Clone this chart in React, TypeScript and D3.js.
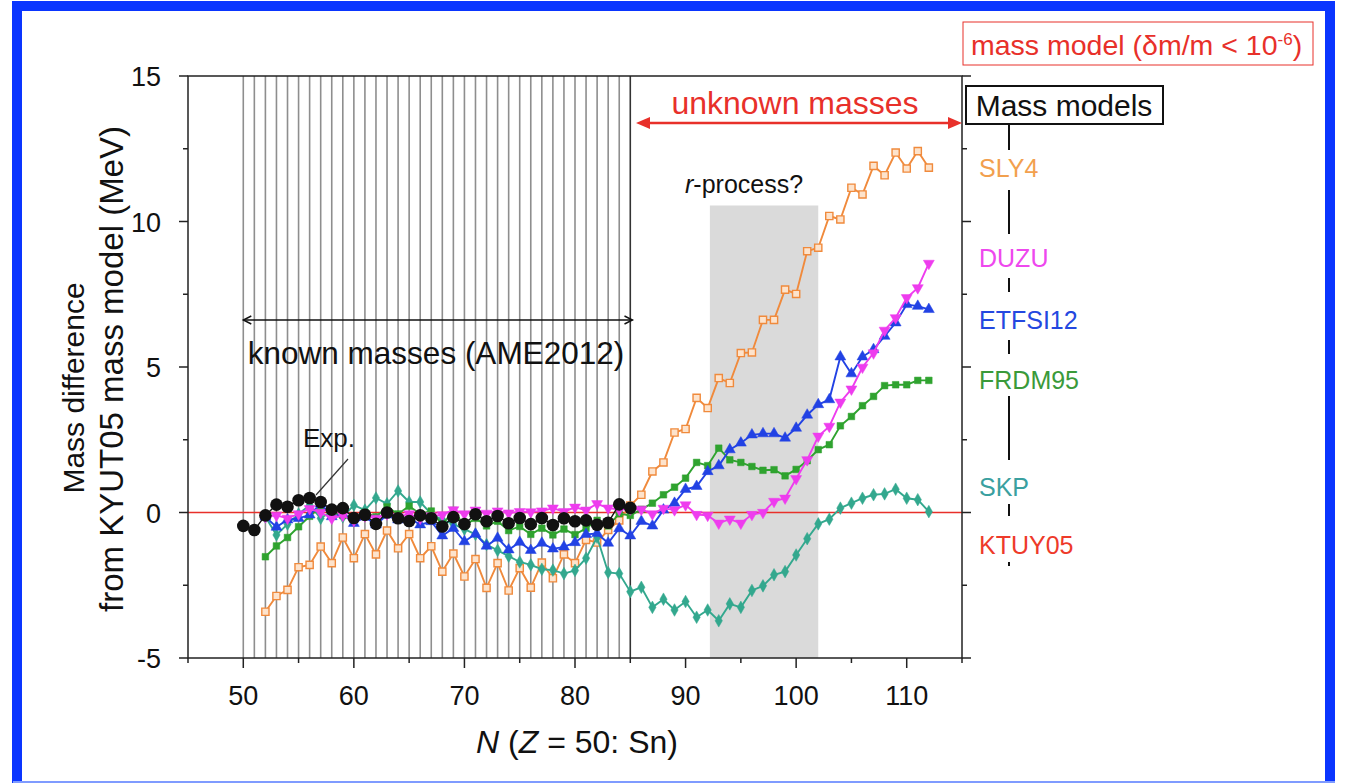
import React from "react";
import * as d3 from "d3";

const W = 1345;
const H = 783;

// Neutron numbers (Z = 50, Sn isotopes)
const modelN = d3.range(52, 113);
const expN = d3.range(50, 86);
const knownN = d3.range(50, 86);

// Measured masses relative to KYUT05 (MeV)
const expValues = [
  -0.46, -0.6, -0.1, 0.27, 0.2, 0.42, 0.5, 0.36, 0.1, 0.15, -0.19, -0.08, -0.39, 0.0, -0.2, -0.29,
  -0.1, -0.2, -0.48, -0.16, -0.4, -0.06, -0.3, -0.12, -0.37, -0.19, -0.4, -0.19, -0.43, -0.2, -0.3,
  -0.27, -0.42, -0.35, 0.28, 0.16,
];

// Mass-model predictions relative to KYUT05 (MeV), N = 52 … 112
const sly4 = [
  -3.41, -2.87, -2.66, -1.88, -1.8, -1.17, -1.74, -0.86, -1.57, -0.74, -1.44, -0.62, -1.23, -0.74,
  -1.57, -1.16, -2.03, -1.41, -2.2, -1.6, -2.59, -1.74, -2.68, -1.91, -2.58, -1.72, -2.26, -1.44,
  -1.74, -0.94, -1.03, -0.6, -0.27, 0.24, 0.61, 1.41, 1.72, 2.75, 2.87, 3.94, 3.59, 4.62, 4.45,
  5.48, 5.5, 6.62, 6.62, 7.66, 7.51, 8.98, 9.1, 10.19, 10.07, 11.16, 10.93, 11.91, 11.59, 12.37,
  11.82, 12.42, 11.85,
];
const duzu = [
  -0.15, -0.1, -0.2, -0.05, 0.13, 0.0, -0.2, -0.1, -0.28, -0.12, -0.2, -0.05, -0.15, -0.05, -0.2,
  -0.12, -0.08, 0.09, -0.05, 0.08, -0.03, 0.05, -0.02, 0.03, 0.02, 0.05, 0.15, 0.03, 0.18, 0.08,
  0.3, 0.15, 0.1, 0.12, 0.11, -0.05, 0.14, 0.09, 0.26, -0.07, -0.1, -0.37, -0.23, -0.37, -0.07,
  0.0, 0.38, 0.49, 1.16, 1.81, 2.62, 2.96, 3.79, 4.24, 4.99, 5.48, 6.26, 6.69, 7.38, 7.72, 8.56,
];
const etfsi12 = [
  -0.15, -0.5, -0.25, -0.2, -0.08, 0.3, -0.14, -0.05, -0.37, -0.15, -0.42, -0.08, -0.25, -0.19,
  -0.42, -0.31, -0.8, -0.54, -1.0, -0.74, -1.15, -0.88, -1.28, -1.02, -1.3, -1.05, -1.25, -1.18,
  -1.03, -0.75, -0.72, -1.05, -0.55, -0.8, -0.3, -0.46, 0.09, 0.32, 0.8, 0.9, 1.41, 1.61, 2.16,
  2.39, 2.67, 2.71, 2.71, 2.56, 2.9, 3.35, 3.71, 3.88, 5.35, 4.77, 5.35, 5.6, 6.06, 6.52, 7.15,
  7.09, 6.98,
];
const frdm95 = [
  -1.52, -1.15, -0.86, -0.49, -0.13, 0.19, 0.0, -0.1, -0.2, 0.0, -0.15, 0.19, -0.05, 0.22, -0.05,
  0.05, -0.42, 0.07, -0.46, -0.2, -0.46, -0.3, -0.62, -0.48, -0.75, -0.54, -0.77, -0.57, -0.76,
  -0.54, -0.27, -0.46, -0.04, -0.1, 0.11, 0.32, 0.61, 0.87, 1.18, 1.72, 1.61, 2.21, 1.81, 1.72,
  1.58, 1.45, 1.47, 1.26, 1.48, 1.78, 2.16, 2.33, 2.98, 3.3, 3.67, 3.99, 4.36, 4.39, 4.39, 4.54,
  4.54,
];
const skp = [
  -0.15, -0.77, -0.4, -0.05, 0.25, -0.2, 0.05, -0.15, 0.25, 0.08, 0.5, 0.3, 0.74, 0.36, 0.36,
  -0.05, -0.25, -0.4, -0.57, -0.75, -1.1, -1.3, -1.5, -1.7, -1.8, -1.95, -1.98, -2.1, -1.99, -1.57,
  -0.85, -2.06, -2.1, -2.72, -2.57, -3.26, -2.98, -3.35, -3.06, -3.6, -3.35, -3.72, -3.14, -3.26,
  -2.68, -2.52, -2.14, -2.03, -1.46, -0.9, -0.39, -0.23, 0.15, 0.32, 0.49, 0.61, 0.64, 0.8, 0.49,
  0.44, 0.03,
];

// r-process window (N range) and its upper edge (MeV)
const rProcessN = [92.2, 102.0];
const rProcessTop = 10.55;

const xMajor = [50, 60, 70, 80, 90, 100, 110];
const xMinor = [45, 55, 65, 75, 85, 95, 105, 115];
const yMajor = [-5, 0, 5, 10, 15];
const yMinor = [-2.5, 2.5, 7.5, 12.5];

const modelNames = ["SLY4", "DUZU", "ETFSI12", "FRDM95", "SKP", "KTUY05"];
const modelLabelColors = ["#f2a04e", "#ee48ee", "#2448e0", "#3a9a3a", "#3aa0a0", "#ee3a2a"];

const FONT = "'Liberation Sans', Arial, Helvetica, sans-serif";

const x = d3.scaleLinear().domain([45, 115]).range([188, 962]);
const y = d3.scaleLinear().domain([-5, 15]).range([658, 76]);

type Series = {
  name: string;
  values: number[];
  color: string;
  fill: string;
  symbol: d3.SymbolType;
  size: number;
  rotate?: number;
};

const series: Series[] = [
  { name: "SLY4", values: sly4, color: "#f08a3c", fill: "#fde3cc", symbol: d3.symbolSquare, size: 52 },
  { name: "SKP", values: skp, color: "#33a88e", fill: "#33a88e", symbol: d3.symbolDiamond, size: 46 },
  { name: "FRDM95", values: frdm95, color: "#2fa32f", fill: "#2fa32f", symbol: d3.symbolSquare, size: 44 },
  { name: "ETFSI12", values: etfsi12, color: "#2242e4", fill: "#2242e4", symbol: d3.symbolTriangle, size: 52 },
  { name: "DUZU", values: duzu, color: "#ee3cee", fill: "#ee3cee", symbol: d3.symbolTriangle, size: 52, rotate: 180 },
];

function ArrowLine({ x1, x2, yv, color, width, open }: { x1: number; x2: number; yv: number; color: string; width: number; open: boolean }) {
  const L = open ? 8 : 14;
  const h = open ? 4 : 6;
  if (open) {
    return (
      <g stroke={color} strokeWidth={width} fill="none">
        <line x1={x1} y1={yv} x2={x2} y2={yv} />
        <polyline points={`${x1 + L},${yv - h} ${x1},${yv} ${x1 + L},${yv + h}`} />
        <polyline points={`${x2 - L},${yv - h} ${x2},${yv} ${x2 - L},${yv + h}`} />
      </g>
    );
  }
  return (
    <g>
      <line x1={x1 + L - 2} y1={yv} x2={x2 - L + 2} y2={yv} stroke={color} strokeWidth={width} />
      <path d={`M${x1},${yv}L${x1 + L},${yv - h}L${x1 + L},${yv + h}Z`} fill={color} />
      <path d={`M${x2},${yv}L${x2 - L},${yv - h}L${x2 - L},${yv + h}Z`} fill={color} />
    </g>
  );
}

export default function App() {
  const line = d3
    .line<[number, number]>()
    .x((d) => x(d[0]))
    .y((d) => y(d[1]));

  const [x0, x1] = x.range();
  const [yb, yt] = y.range();

  const labelX = 979;
  const labelY = [177, 267, 329, 389, 496, 554];
  const connector = [
    [124, 150],
    [190, 234],
    [278, 292],
    [340, 354],
    [396, 460],
    [504, 516],
    [562, 566],
  ];

  return (
    <svg
      width={W}
      height={H}
      viewBox={`0 0 ${W} ${H}`}
      style={{ position: "absolute", left: 0, top: 0, background: "#fff" }}
      fontFamily={FONT}
    >
      <rect x={0} y={0} width={W} height={H} fill="#fff" />
      {/* slide frame */}
      <rect x={17} y={6} width={1313} height={784} fill="none" stroke="#0a35ff" strokeWidth={10} />
      <line x1={13} y1={782} x2={1335} y2={782} stroke="#7f9bff" strokeWidth={2} />

      {/* r-process window */}
      <rect
        x={x(rProcessN[0])}
        y={y(rProcessTop)}
        width={x(rProcessN[1]) - x(rProcessN[0])}
        height={y(-5) - y(rProcessTop)}
        fill="#dadada"
      />

      {/* known-mass isotopes */}
      {knownN.map((n) => (
        <line
          key={n}
          x1={x(n)}
          x2={x(n)}
          y1={yt}
          y2={yb}
          stroke={n === 85 ? "#333" : "#8e8e8e"}
          strokeWidth={1.6}
        />
      ))}

      {/* KTUY05 reference */}
      <line x1={x0} x2={x1} y1={y(0)} y2={y(0)} stroke="#e8302a" strokeWidth={1.5} />

      {/* frame and ticks */}
      <rect x={x0} y={yt} width={x1 - x0} height={yb - yt} fill="none" stroke="#222" strokeWidth={1.5} />
      {xMajor.map((t) => (
        <line key={"xM" + t} x1={x(t)} x2={x(t)} y1={yb} y2={yb + 10} stroke="#222" strokeWidth={1.5} />
      ))}
      {xMinor.map((t) => (
        <line key={"xm" + t} x1={x(t)} x2={x(t)} y1={yb} y2={yb + 5} stroke="#222" strokeWidth={1.5} />
      ))}
      {yMajor.map((t) => (
        <g key={"yM" + t}>
          <line x1={x0 - 9} x2={x0} y1={y(t)} y2={y(t)} stroke="#222" strokeWidth={1.5} />
          <line x1={x1} x2={x1 + 9} y1={y(t)} y2={y(t)} stroke="#222" strokeWidth={1.5} />
        </g>
      ))}
      {yMinor.map((t) => (
        <g key={"ym" + t}>
          <line x1={x0 - 5} x2={x0} y1={y(t)} y2={y(t)} stroke="#222" strokeWidth={1.5} />
          <line x1={x1} x2={x1 + 5} y1={y(t)} y2={y(t)} stroke="#222" strokeWidth={1.5} />
        </g>
      ))}
      {xMajor.map((t) => (
        <text key={"xl" + t} x={x(t)} y={yb + 47} fontSize={27} textAnchor="middle" fill="#111">
          {t}
        </text>
      ))}
      {yMajor.map((t) => (
        <text key={"yl" + t} x={x0 - 27} y={y(t) + 10} fontSize={27} textAnchor="end" fill="#111">
          {t}
        </text>
      ))}

      {/* axis titles */}
      <text x={577} y={753} fontSize={32} textAnchor="middle" fill="#111">
        <tspan fontStyle="italic">N</tspan> (<tspan fontStyle="italic">Z</tspan> = 50: Sn)
      </text>
      <g transform={`translate(73, 388) rotate(-90)`}>
        <text x={0} y={0} fontSize={30} textAnchor="middle" dominantBaseline="central" fill="#111">
          Mass difference
        </text>
      </g>
      <g transform={`translate(111, 369) rotate(-90)`}>
        <text x={0} y={0} fontSize={33} textAnchor="middle" dominantBaseline="central" fill="#111">
          from KYUT05 mass model (MeV)
        </text>
      </g>

      {/* mass models */}
      {series.map((s) => {
        const pts = modelN.map((n, i) => [n, s.values[i]] as [number, number]);
        const sym = d3.symbol().type(s.symbol).size(s.size)() || "";
        return (
          <g key={s.name}>
            <path d={line(pts) || ""} fill="none" stroke={s.color} strokeWidth={1.9} />
            {pts.map(([n, v]) => (
              <path
                key={n}
                d={sym}
                transform={`translate(${x(n)},${y(v)})${s.rotate ? ` rotate(${s.rotate})` : ""}`}
                fill={s.fill}
                stroke={s.color}
                strokeWidth={s.fill === s.color ? 0.5 : 1.4}
              />
            ))}
          </g>
        );
      })}

      {/* experimental masses */}
      <path
        d={line(expN.map((n, i) => [n, expValues[i]]) as [number, number][]) || ""}
        fill="none"
        stroke="#111"
        strokeWidth={1.4}
      />
      {expN.map((n, i) => (
        <circle key={"e" + n} cx={x(n)} cy={y(expValues[i])} r={6.3} fill="#111" />
      ))}

      {/* annotations */}
      <text x={303} y={447} fontSize={26} fill="#111">
        Exp.
      </text>
      <line x1={348} y1={459} x2={316} y2={495} stroke="#333" strokeWidth={1.2} />

      <ArrowLine x1={x(50)} x2={x(85.2)} yv={320} color="#111" width={1.4} open />
      <text x={436} y={364} fontSize={31.5} textAnchor="middle" fill="#111">
        known masses (AME2012)
      </text>

      <ArrowLine x1={636} x2={x(115)} yv={123} color="#e8302a" width={2.5} open={false} />
      <text x={795} y={114} fontSize={32} textAnchor="middle" fill="#e8302a">
        unknown masses
      </text>

      <text x={685} y={193} fontSize={25} fill="#111">
        <tspan fontStyle="italic">r</tspan>-process?
      </text>

      {/* model list */}
      <rect x={963} y={22} width={350} height={43} fill="#fff" stroke="#e8302a" strokeWidth={1} />
      <text x={971} y={55} fontSize={28.5} fill="#e8302a">
        mass model (δm/m &lt; 10<tspan dy={-10} fontSize={17}>-6</tspan>
        <tspan dy={10}>)</tspan>
      </text>
      <rect x={966} y={86} width={197} height={38} fill="#fff" stroke="#111" strokeWidth={2} />
      <text x={1064} y={116} fontSize={30} textAnchor="middle" fill="#111">
        Mass models
      </text>
      {connector.map(([a, b], i) => (
        <line key={"c" + i} x1={1009} x2={1009} y1={a} y2={b} stroke="#111" strokeWidth={2} />
      ))}
      {modelNames.map((m, i) => (
        <text key={m} x={labelX} y={labelY[i]} fontSize={25} fill={modelLabelColors[i]}>
          {m}
        </text>
      ))}
    </svg>
  );
}
